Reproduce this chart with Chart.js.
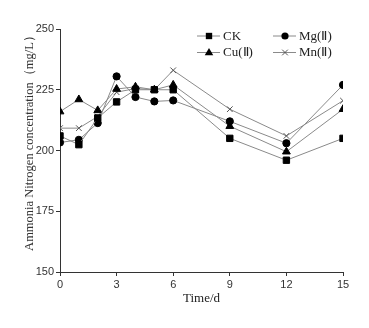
<!DOCTYPE html>
<html>
<head>
<meta charset="utf-8">
<script src="https://cdn.jsdelivr.net/npm/chart.js@4/dist/chart.umd.min.js"></script>
<style>
  html, body { margin: 0; padding: 0; background: #fff; }
  #wrap { width: 369px; height: 328px; }
</style>
</head>
<body>
<div id="wrap"><canvas id="chart" width="369" height="328"></canvas></div>
<script>
// days sampled
const days = [0, 1, 2, 3, 4, 5, 6, 9, 12, 15];

// ammonia nitrogen, mg/L
const ckValues = [206, 202.4, 213.4, 220, 225, 225, 225, 205, 196, 205];
const mgValues = [203.3, 204.4, 211.3, 230.5, 222, 220.2, 220.6, 212, 203, 227];
const cuValues = [216, 221, 216.5, 225.3, 226.2, 225, 227, 210, 199.5, 217];
const mnValues = [209.2, 209.2, 214, 224, 225.5, 225, 233, 217, 206, 220.5];

const seriesNames = ['CK', 'Mg(Ⅱ)', 'Cu(Ⅱ)', 'Mn(Ⅱ)'];
const xTicks = [0, 3, 6, 9, 12, 15];
const yTicks = [150, 175, 200, 225, 250];
const yTitle = 'Ammonia Nitrogen concentration（mg/L）';

const lineGray = '#8a8a8a';

function toPoints(vals) {
    return days.map((d, i) => ({ x: d, y: vals[i] }));
}

function makeSet(label, vals, style, radius, markColor) {
    return {
        label: label,
        data: toPoints(vals),
        borderColor: lineGray,
        borderWidth: 1,
        pointStyle: style,
        pointRadius: radius,
        pointBackgroundColor: markColor,
        pointBorderColor: markColor,
        pointBorderWidth: 1,
        tension: 0
    };
}

const sets = [
    makeSet(seriesNames[0], ckValues, 'rect', 4.5, '#000'),
    makeSet(seriesNames[1], mgValues, 'circle', 3.6, '#000'),
    makeSet(seriesNames[2], cuValues, 'triangle', 4.5, '#000'),
    makeSet(seriesNames[3], mnValues, 'crossRot', 4, '#555')
];

function drawMark(ctx, style, r, x, y) {
    ctx.beginPath();
    if (style === 'rect') {
        const s = r * Math.SQRT1_2;
        ctx.rect(x - s, y - s, 2 * s, 2 * s);
        ctx.fill();
    } else if (style === 'circle') {
        ctx.arc(x, y, r, 0, Math.PI * 2);
        ctx.fill();
    } else if (style === 'triangle') {
        ctx.moveTo(x, y - r);
        ctx.lineTo(x + r * 0.95, y + r * 0.6);
        ctx.lineTo(x - r * 0.95, y + r * 0.6);
        ctx.closePath();
        ctx.fill();
    } else {
        const s = r * Math.SQRT1_2;
        ctx.moveTo(x - s, y - s); ctx.lineTo(x + s, y + s);
        ctx.moveTo(x + s, y - s); ctx.lineTo(x - s, y + s);
        ctx.stroke();
    }
}

// legend inside the plot (two columns) + the y title, a bit above centre like the original
const extras = {
    id: 'extras',
    afterDraw(chart) {
        const ctx = chart.ctx;
        const spots = [[197, 36], [273, 36], [197, 52.5], [273, 52.5]];
        ctx.save();
        chart.data.datasets.forEach((ds, i) => {
            const [x, y] = spots[i];
            ctx.strokeStyle = lineGray;
            ctx.lineWidth = 1;
            ctx.beginPath();
            ctx.moveTo(x, y);
            ctx.lineTo(x + 23, y);
            ctx.stroke();
            ctx.fillStyle = ds.pointBackgroundColor;
            ctx.strokeStyle = ds.pointBorderColor;
            drawMark(ctx, ds.pointStyle, ds.pointRadius, x + 12, y);
            ctx.fillStyle = '#222';
            ctx.font = '13px "Liberation Serif", serif';
            ctx.textBaseline = 'middle';
            ctx.textAlign = 'left';
            ctx.fillText(ds.label, x + 26, y + 0.5);
        });

        ctx.translate(30, 140);
        ctx.rotate(-Math.PI / 2);
        ctx.fillStyle = '#333';
        ctx.font = '12.5px "Liberation Serif", serif';
        ctx.textAlign = 'center';
        ctx.textBaseline = 'middle';
        ctx.fillText(yTitle, 0, 0);
        ctx.restore();
    }
};

new Chart(document.getElementById('chart'), {
    type: 'line',
    data: { datasets: sets },
    options: {
        responsive: false,
        animation: false,
        layout: { padding: { top: 29, right: 26, left: 0, bottom: 0 } },
        plugins: {
            legend: { display: false },
            tooltip: { enabled: false }
        },
        scales: {
            x: {
                type: 'linear',
                min: 0,
                max: 15,
                afterBuildTicks: (s) => { s.ticks = xTicks.map(v => ({ value: v })); },
                afterFit: (s) => { s.height = 56; },
                grid: { display: true, drawOnChartArea: false, drawTicks: true, tickLength: 4, color: '#333' },
                border: { color: '#333', width: 1 },
                ticks: { color: '#333', font: { family: '"Liberation Sans", sans-serif', size: 11 }, padding: 2, maxRotation: 0 },
                title: {
                    display: true,
                    text: 'Time/d',
                    color: '#222',
                    font: { family: '"Liberation Serif", serif', size: 13 },
                    padding: { top: 2, bottom: 22 }
                }
            },
            y: {
                min: 150,
                max: 250,
                afterBuildTicks: (s) => { s.ticks = yTicks.map(v => ({ value: v })); },
                afterFit: (s) => { s.width = 60; },
                grid: { display: true, drawOnChartArea: false, drawTicks: true, tickLength: 4, color: '#333' },
                border: { color: '#333', width: 1 },
                ticks: { color: '#333', font: { family: '"Liberation Sans", sans-serif', size: 11 }, padding: 2 },
                title: { display: false }
            }
        }
    },
    plugins: [extras]
});
</script>
</body>
</html>
